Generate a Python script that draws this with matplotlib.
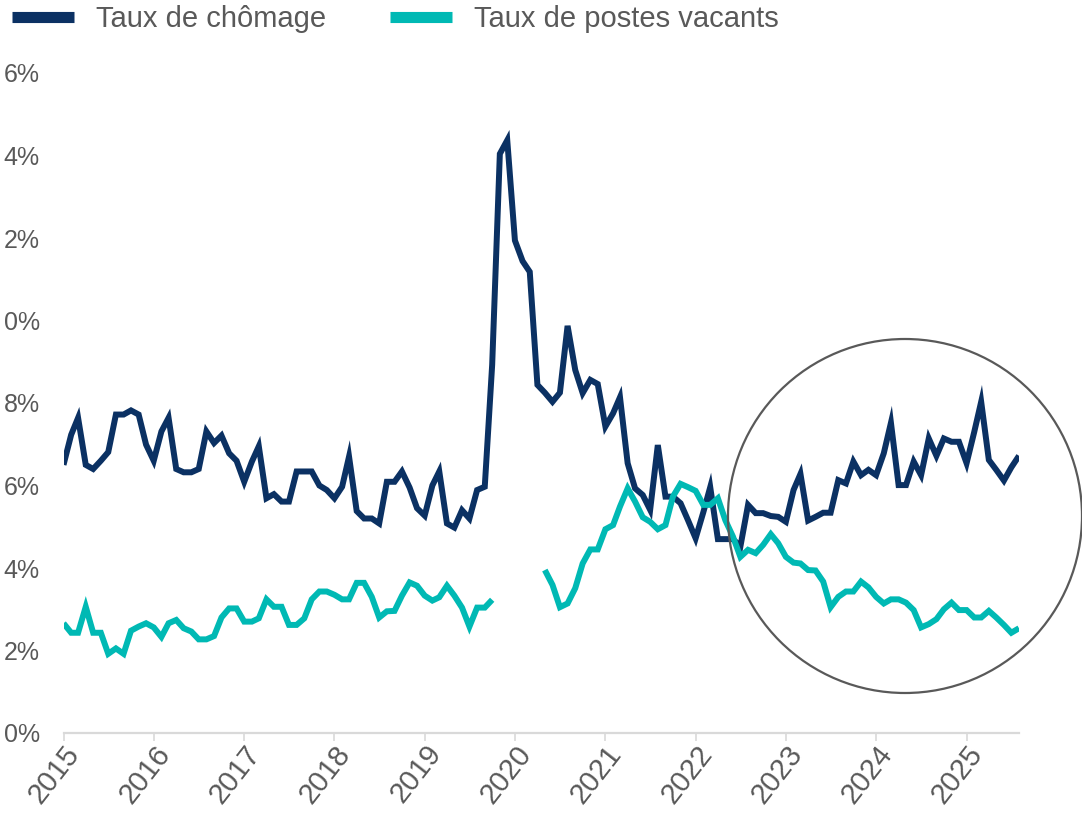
import numpy as np
import pandas as pd
import matplotlib
matplotlib.use("Agg")
import matplotlib.pyplot as plt
import matplotlib.dates as mdates
from matplotlib.lines import Line2D
from matplotlib.patches import Ellipse

plt.rcParams['font.family'] = ['Liberation Sans', 'DejaVu Sans']

# monthly series, Jan 2015 -> Aug 2025
months = pd.date_range("2015-01-01", periods=128, freq="MS")

chomage = [
    6.50, 7.23, 7.64, 6.50, 6.40, 6.60, 6.81, 7.72, 7.72, 7.82, 7.72, 6.99,
    6.60, 7.31, 7.64, 6.40, 6.32, 6.32, 6.40, 7.31, 7.03, 7.21, 6.78, 6.60,
    6.09, 6.58, 6.95, 5.69, 5.79, 5.61, 5.61, 6.34, 6.34, 6.34, 6.00, 5.89,
    5.69, 5.97, 6.70, 5.38, 5.20, 5.20, 5.08, 6.09, 6.09, 6.34, 5.95, 5.45,
    5.27, 6.00, 6.34, 5.08, 4.98, 5.40, 5.20, 5.89, 5.97, 8.93, 14.04, 14.37,
    11.94, 11.44, 11.18, 8.44, 8.25, 8.03, 8.25, 9.87, 8.80, 8.24, 8.56, 8.46,
    7.43, 7.75, 8.14, 6.54, 5.93, 5.77, 5.41, 6.98, 5.73, 5.73, 5.57, 5.16,
    4.72, 5.35, 5.96, 4.70, 4.70, 4.70, 4.52, 5.53, 5.33, 5.33, 5.26, 5.24,
    5.12, 5.89, 6.28, 5.15, 5.24, 5.34, 5.34, 6.13, 6.05, 6.58, 6.25, 6.38,
    6.25, 6.78, 7.52, 6.01, 6.01, 6.58, 6.25, 7.14, 6.72, 7.14, 7.06, 7.06,
    6.54, 7.30, 8.03, 6.62, 6.38, 6.12, 6.44, 6.72,
]

nan = np.nan
postes_vacants = [
    2.66, 2.43, 2.43, 3.06, 2.43, 2.43, 1.92, 2.05, 1.92, 2.48, 2.58, 2.66,
    2.56, 2.33, 2.66, 2.74, 2.54, 2.46, 2.27, 2.27, 2.35, 2.80, 3.02, 3.02,
    2.70, 2.70, 2.78, 3.24, 3.06, 3.06, 2.62, 2.62, 2.78, 3.24, 3.43, 3.43,
    3.35, 3.24, 3.24, 3.64, 3.64, 3.30, 2.80, 2.95, 2.96, 3.33, 3.65, 3.57,
    3.33, 3.21, 3.29, 3.57, 3.33, 3.04, 2.58, 3.04, 3.04, 3.23, nan, nan,
    nan, nan, nan, nan, 3.95, 3.59, 3.05, 3.14, 3.51, 4.11, 4.45, 4.45,
    4.94, 5.04, 5.49, 5.93, 5.61, 5.23, 5.12, 4.94, 5.04, 5.73, 6.04, 5.96,
    5.87, 5.53, 5.53, 5.69, 5.16, 4.76, 4.27, 4.44, 4.36, 4.56, 4.82, 4.60,
    4.27, 4.13, 4.11, 3.95, 3.94, 3.67, 3.05, 3.30, 3.43, 3.43, 3.67, 3.53,
    3.30, 3.14, 3.24, 3.24, 3.16, 2.98, 2.56, 2.64, 2.76, 3.00, 3.16, 2.98,
    2.98, 2.80, 2.80, 2.96, 2.80, 2.62, 2.43, 2.54,
]

y_ticks = [0, 2, 4, 6, 8, 10, 12, 14, 16]
# the reference image crops the leading "1" of the two-digit labels
y_labels = ["0%", "2%", "4%", "6%", "8%", "0%", "2%", "4%", "6%"]
labels = ["Taux de chômage", "Taux de postes vacants"]

navy = "#0B3163"
teal = "#00B9B4"
grey = "#595959"
light = "#D9D9D9"

W, H = 1082, 817
fig = plt.figure(figsize=(W / 100, H / 100), dpi=100)
ax = fig.add_axes([63.5 / W, 1 - 733 / H, (1019 - 63.5) / W, (733 - 73) / H])

ax.plot(months, chomage, color=navy, lw=4.3, solid_joinstyle="miter", solid_capstyle="butt")
ax.plot(months, postes_vacants, color=teal, lw=4.3, solid_joinstyle="miter", solid_capstyle="butt")

ax.set_ylim(0, 16)
ax.set_yticks(y_ticks)
ax.set_yticklabels(y_labels)
ax.set_xlim(months[0], months[-1])
ax.xaxis.set_major_locator(mdates.YearLocator())
ax.xaxis.set_major_formatter(mdates.DateFormatter("%Y"))

for s in ["top", "right", "left"]:
    ax.spines[s].set_visible(False)
ax.spines["bottom"].set_color(light)
ax.spines["bottom"].set_linewidth(1.6)

ax.tick_params(axis="y", length=0, pad=17, labelsize=18, labelcolor=grey)
ax.tick_params(axis="x", length=6, width=1.2, color=light, pad=-1,
               labelsize=21, labelcolor=grey)
for t in ax.get_xticklabels():
    t.set_rotation(52)
    t.set_ha("right")
    t.set_va("top")
    t.set_rotation_mode("anchor")

handles = [Line2D([], [], color=navy, lw=8, solid_capstyle="butt"),
           Line2D([], [], color=teal, lw=8, solid_capstyle="butt")]
fig.legend(handles, labels, loc="upper left", bbox_to_anchor=(12 / W, 1 - 5 / H),
           ncol=2, frameon=False, fontsize=21, labelcolor=grey,
           handlelength=2.12, handletextpad=0.75, columnspacing=2.2, borderpad=0,
           borderaxespad=0)

# circle highlighting the recent period
fig.add_artist(Ellipse((905 / W, 1 - 516 / H), 354 / W, 354 / H,
                       transform=fig.transFigure, fill=False, ec=grey, lw=1.6))

fig.savefig("out.png", dpi=100)
